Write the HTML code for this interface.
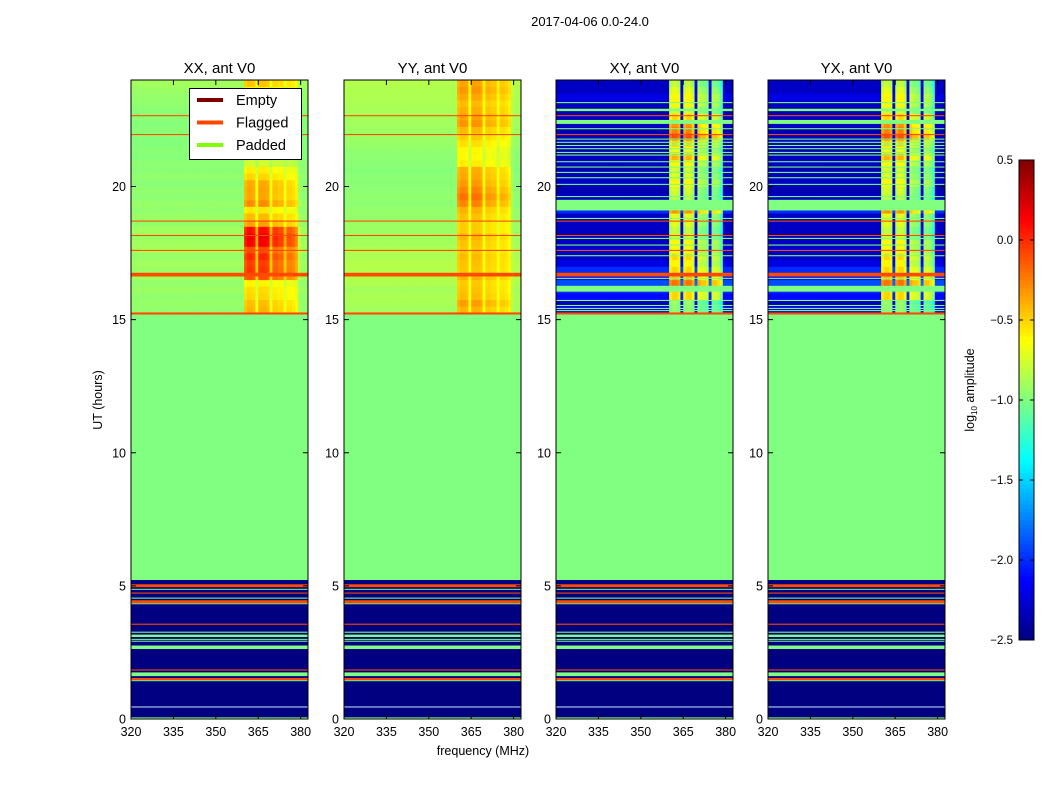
<!DOCTYPE html>
<html><head><meta charset="utf-8"><style>
html,body{margin:0;padding:0;background:#fff;}
svg{display:block;font-family:"Liberation Sans","DejaVu Sans",sans-serif;}
</style></head><body>
<svg id="chart" width="1050" height="800" viewBox="0 0 1050 800"></svg>
<script>
// ---- data ----
const panelTitles = ["XX, ant V0","YY, ant V0","XY, ant V0","YX, ant V0"];
const yTicks = [0,5,10,15,20];
const xTicks = [320,335,350,365,380];
const cbTicks = [0.5,0.0,-0.5,-1.0,-1.5,-2.0,-2.5];
const cbTickLabels = ["0.5","0.0","\u22120.5","\u22121.0","\u22121.5","\u22122.0","\u22122.5"];
// upper rows: start hour 15.25, step 0.25 (35 rows)
const xxAct = [0.55,0.5,0.45,0.4,0.35,0.8,0.9,0.85,0.95,0.8,1.05,1.1,1.0,0.6,0.5,0.4,0.65,0.6,0.6,0.6,0.45,0.4,0.2,0.15,0.15,0.1,0.15,0.15,0.1,0.1,0.15,0.15,0.2,0.3,0.45];
const yyAct = [0.5,0.55,0.45,0.45,0.4,0.45,0.4,0.4,0.45,0.4,0.45,0.5,0.45,0.45,0.5,0.55,0.7,0.75,0.7,0.65,0.6,0.6,0.4,0.35,0.35,0.4,0.45,0.5,0.6,0.55,0.5,0.45,0.5,0.55,0.5];
const xxBase = [-0.95,-0.93,-0.95,-0.92,-0.94,-0.9,-0.92,-0.9,-0.93,-0.88,-0.9,-0.92,-0.9,-0.94,-0.92,-0.95,-0.93,-0.96,-0.95,-0.97,-0.95,-0.97,-0.96,-0.98,-0.97,-0.99,-0.98,-0.97,-0.98,-0.96,-0.97,-0.95,-0.94,-0.92,-0.9];
const yyBase = [-0.9,-0.88,-0.87,-0.89,-0.86,-0.84,-0.85,-0.84,-0.87,-0.86,-0.89,-0.9,-0.92,-0.92,-0.94,-0.94,-0.96,-0.95,-0.96,-0.97,-0.96,-0.98,-0.97,-0.96,-0.95,-0.93,-0.92,-0.91,-0.9,-0.89,-0.88,-0.87,-0.86,-0.86,-0.85];
const xyBase = [-2.2,-2.3,-2.1,-2.0,-1.9,-2.1,-2.0,-2.2,-2.3,-2.25,-2.3,-2.35,-2.3,-2.3,-2.3,-2.0,-2.1,-2.3,-2.35,-2.3,-2.3,-2.35,-2.3,-2.3,-2.35,-2.3,-2.3,-2.35,-2.3,-2.3,-2.35,-2.3,-2.2,-2.3,-2.3];
const xyAct = [1.3,1.4,1.6,1.5,1.7,1.7,1.5,1.6,1.8,1.6,1.7,1.6,1.5,1.6,1.6,1.7,1.6,1.5,1.6,1.7,1.6,1.6,1.7,1.9,1.7,1.8,2.2,2.1,2.0,1.8,1.6,1.7,1.6,1.6,1.5];
// column weights, 320..382 MHz, 1 MHz step
const colXX = [0,0,0,0,0,0,0,0,0,0, 0,0,0,0,0,0,0,0,0,0, 0,0,0,0,0,0,0,0,0,0, 0,0,0,0,0,0,0,0,0,0, 0.9,1,1,0.95,0.5,1,1,1,0.95,0.5, 0.85,0.85,0.8,0.8,0.5,0.75,0.75,0.7,0.6,0.1, 0,0,0];
const colXY = [0,0,0,0,0,0,0,0,0,0, 0,0,0,0,0,0,0,0,0,0, 0,0,0,0,0,0,0,0,0,0, 0,0,0,0,0,0,0,0,0,0, 0.95,1,1,0.95,0.05,0.95,1,1,0.9,0.05, 0.9,0.85,0.85,0.8,0.05,0.85,0.85,0.8,0.7,0, 0,0,0];
const flagged = [[5.06,4.95],[4.75,4.71],[4.46,4.35],[3.58,3.54],[1.86,1.82],[1.54,1.46],[22.68,22.64],[21.97,21.93],[18.72,18.68],[18.18,18.14],[17.62,17.58],[16.76,16.62],[15.27,15.19]];
const paddedLow = [[4.89,4.86],[4.56,4.52],[4.35,4.31],[3.28,3.24],[3.17,3.08],[3.01,2.98],[2.94,2.91],[2.76,2.63],[1.75,1.61],[1.46,1.42],[0.06,0]];
const paddedXY = [[23.17,23.13],[22.92,22.83],[22.5,22.35],[22.19,22.15],[21.8,21.76],[21.68,21.64],[21.56,21.52],[21.44,21.4],[21.3,21.26],[21.2,21.16],[20.95,20.91],[20.75,20.71],[20.55,20.51],[20.35,20.31],[20.1,20.06],[19.64,19.6],[19.5,19.1],[18.82,18.78],[18.07,18.03],[17.82,17.78],[17.42,17.38],[16.57,16.53],[16.27,16.05],[15.74,15.7],[15.55,15.51],[15.44,15.4],[15.36,15.32]];
const greenStart = 5.22, greenEnd = 15.19, upperStart = 15.25, rowStep = 0.25;

// ---- layout ----
const NS="http://www.w3.org/2000/svg";
const svg=document.getElementById('chart');
const panelX=[131,344,556,768], pw=177, plotTop=80, bot=719;
const yS=h=>bot-(h/24)*(bot-plotTop);
const xS=(i,f)=>panelX[i]+(f-320)/(382.6-320)*pw;
function jet(v){let t=(v+2.5)/3;t=Math.max(0,Math.min(1,t));
 const c=x=>Math.round(255*Math.max(0,Math.min(1,x)));
 return `rgb(${c(1.5-Math.abs(4*t-3))},${c(1.5-Math.abs(4*t-2))},${c(1.5-Math.abs(4*t-1))})`;}
function mk(tag,attrs,parent){const e=document.createElementNS(NS,tag);for(const k in attrs)e.setAttribute(k,attrs[k]);(parent||svg).appendChild(e);return e;}
function txt(s,attrs,parent){const e=mk('text',attrs,parent);e.textContent=s;return e;}

const sup=txt("2017-04-06 0.0-24.0",{x:590,y:26,'text-anchor':'middle','font-size':13});



for(let p=0;p<4;p++){
 const g=mk('g',{});
 
 
 const cross=p>=2;
 mk('rect',{x:panelX[p],y:yS(greenStart),width:pw,height:yS(0)-yS(greenStart),fill:'#000080'},g);
 mk('rect',{x:panelX[p],y:yS(greenEnd),width:pw,height:yS(greenStart)-yS(greenEnd),fill:jet(-1.0)},g);
 const base=p==0?xxBase:p==1?yyBase:xyBase;
 const act=p==0?xxAct:p==1?yyAct:xyAct;
 const col=cross?colXY:colXX;
 for(let r=0;r<base.length;r++){
  const h0=upperStart+r*rowStep,h1=Math.min(24,h0+rowStep);
  const y0=yS(h1),y1=yS(h0);
  for(let c=0;c<col.length;c++){
   const f0=320+c;
   const w=Math.min(xS(p,f0+1),panelX[p]+pw)-xS(p,f0);
   if(w<=0) continue;
   const cell=mk('rect',{x:xS(p,f0).toFixed(2),y:y0.toFixed(2),width:(w+0.4).toFixed(2),height:(y1-y0+0.4).toFixed(2),fill:jet(base[r]+act[r]*col[c])},g);
   
   
  }
 }
 const lines=(arr,color,name)=>arr.forEach(b=>{const r=mk('rect',{x:panelX[p],y:yS(b[0]),width:pw,height:Math.max(1,yS(b[1])-yS(b[0])),fill:color},g);
   
   });
 lines(paddedLow,'#80ff80','padded-row');
 mk('rect',{x:panelX[p],y:yS(0.47),width:pw,height:1,fill:'#c8e8ff'},g);
 if(cross) lines(paddedXY,'#80ff80','padded-row');
 lines(flagged,'#ff4a00','flagged-row');
 mk('rect',{x:panelX[p],y:plotTop,width:pw,height:bot-plotTop,fill:'none',stroke:'#000','stroke-width':1},g);
 yTicks.forEach(t=>{const y=yS(t);
  mk('line',{x1:panelX[p],x2:panelX[p]+5,y1:y,y2:y,stroke:'#000'},g);
  mk('line',{x1:panelX[p]+pw,x2:panelX[p]+pw-5,y1:y,y2:y,stroke:'#000'},g);
  const l=txt(String(t),{x:panelX[p]-5,y:y+4.5,'text-anchor':'end','font-size':12.5},g);
  
  });
 xTicks.forEach(t=>{const x=xS(p,t);
  mk('line',{x1:x,x2:x,y1:bot,y2:bot-5,stroke:'#000'},g);
  mk('line',{x1:x,x2:x,y1:plotTop,y2:plotTop+5,stroke:'#000'},g);
  const l=txt(String(t),{x:x,y:bot+17,'text-anchor':'middle','font-size':12.5},g);
  
  });
 const tt=txt(panelTitles[p],{x:panelX[p]+pw/2,y:73,'text-anchor':'middle','font-size':15},g);
 
 
}
const yl=txt("UT (hours)",{x:0,y:0,transform:'translate(102,400) rotate(-90)','text-anchor':'middle','font-size':12.5});


const xl=txt("frequency (MHz)",{x:483,y:755,'text-anchor':'middle','font-size':12.5});



const lg=mk('g',{});


mk('rect',{x:189.5,y:88.5,width:112,height:71,fill:'#fff',stroke:'#000'},lg);
[["Empty","#800000"],["Flagged","#ff4500"],["Padded","#7fff00"]].forEach((e,i)=>{
 const y=100+i*22.5;
 const ln=mk('line',{x1:197,x2:223,y1:y,y2:y,stroke:e[1],'stroke-width':4},lg);
 
 
 const t=txt(e[0],{x:236,y:y+5,'font-size':14.5},lg);
 
 
});

const cb=mk('g',{});


const cbT=160,cbB=640,cbX=1019,cbW=15;
const cbY=v=>cbB-(v+2.5)/3*(cbB-cbT);
for(let i=0;i<120;i++){const v0=-2.5+i*3/120;
 mk('rect',{x:cbX,y:cbY(v0+3/120),width:cbW,height:(cbB-cbT)/120+0.5,fill:jet(v0+1.5/120)},cb);}
mk('rect',{x:cbX,y:cbT,width:cbW,height:cbB-cbT,fill:'none',stroke:'#000'},cb);
cbTicks.forEach((v,i)=>{const y=cbY(v);
 mk('line',{x1:cbX,x2:cbX+4,y1:y,y2:y,stroke:'#000'},cb);
 mk('line',{x1:cbX+cbW,x2:cbX+cbW-4,y1:y,y2:y,stroke:'#000'},cb);
 const t=txt(cbTickLabels[i],{x:1013,y:y+4,'text-anchor':'end','font-size':11.5},cb);
 
 });
const cl=mk('text',{transform:'translate(974,390) rotate(-90)','text-anchor':'middle','font-size':12.5},cb);


cl.innerHTML='log<tspan font-size="8" dy="3">10</tspan><tspan dy="-3"> amplitude</tspan>';
</script>
</body></html>
